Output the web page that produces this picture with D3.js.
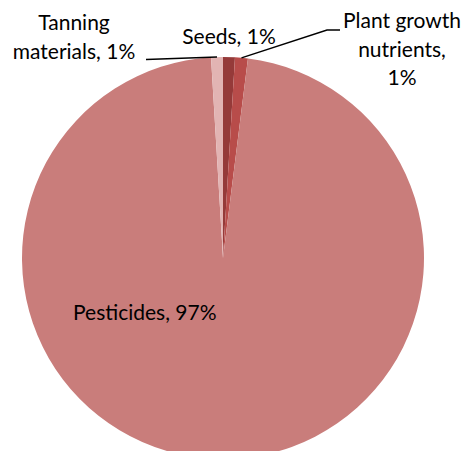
<!DOCTYPE html>
<html>
<head>
<meta charset="utf-8">
<script src="https://cdn.jsdelivr.net/npm/d3@7"></script>
<style>
html,body{margin:0;padding:0;background:#fff;}
svg text{font-family:Lato,"Open Sans",sans-serif;fill:#000;}
</style>
</head>
<body>
<svg id="chart" width="465" height="451"></svg>
<script>
const categories = ["Seeds", "Plant growth nutrients", "Pesticides", "Tanning materials"];
const values = [0.95, 1.03, 97.07, 0.95];
const percentLabels = ["1%", "1%", "97%", "1%"];
const colors = ["#953a39", "#b84c4a", "#c97d7b", "#e2b4b3"];

const svg = d3.select("#chart");
const cx = 223, cy = 258, r = 201;
const fs = 21;

const data = categories.map((c, i) => ({cat: c, value: values[i], pct: percentLabels[i], color: colors[i]}));
const pie = d3.pie().value(d => d.value).sort(null).startAngle(0).endAngle(2 * Math.PI);
const arcs = pie(data);
const arc = d3.arc().innerRadius(0).outerRadius(r);

const g = svg.append("g").attr("transform", `translate(${cx},${cy})`);
g.selectAll("path").data(arcs).enter().append("path")
  .attr("d", arc)
  .attr("fill", d => d.data.color);

function edgePoint(a) {
  const m = (a.startAngle + a.endAngle) / 2;
  return [cx + r * Math.sin(m), cy - r * Math.cos(m)];
}

function label(lines, x, y0, dy, anchor) {
  const t = svg.append("text").attr("font-size", fs).attr("text-anchor", anchor || "middle");
  lines.forEach((l, i) => t.append("tspan").attr("x", x).attr("y", y0 + i * dy).text(l));
  return t;
}

// Seeds
label([categories[0] + ", " + percentLabels[0]], 229, 44, 0);
// Plant growth nutrients
label(["Plant growth", "nutrients,", percentLabels[1]], 402, 28, 28.5);
// Tanning materials
label(["Tanning", "materials, " + percentLabels[3]], 74, 30, 29);
// Pesticides
label([categories[2] + ", " + percentLabels[2]], 73, 320, 0, "start");

// leader lines
const pPlant = edgePoint(arcs[1]);
svg.append("polyline")
  .attr("points", [[pPlant[0], pPlant[1]], [327, 30], [340, 30]].map(p => p.join(",")).join(" "))
  .attr("fill", "none").attr("stroke", "#000").attr("stroke-width", 1.5);
const pTan = edgePoint(arcs[3]);
svg.append("polyline")
  .attr("points", [[pTan[0], pTan[1]], [146, 59.5]].map(p => p.join(",")).join(" "))
  .attr("fill", "none").attr("stroke", "#000").attr("stroke-width", 1.5);
</script>
</body>
</html>
